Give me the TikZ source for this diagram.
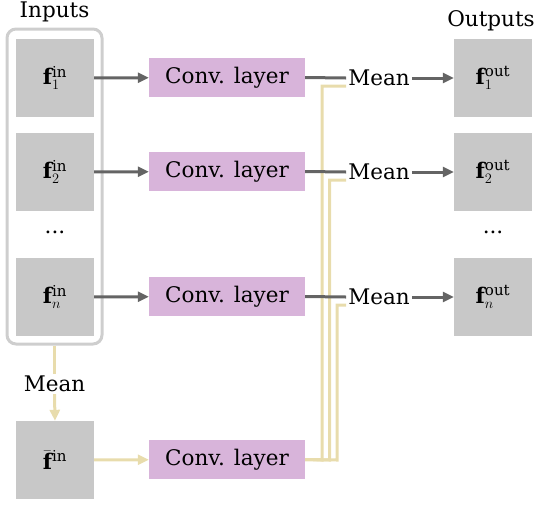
\documentclass[tikz,border=0pt]{standalone}
\usepackage{amsmath}
\usepackage{fontspec}
\setmainfont{DejaVu Serif}
\usepackage{xcolor}
\usetikzlibrary{arrows.meta,positioning,calc}

\definecolor{featgray}{RGB}{200,200,200}
\definecolor{framegray}{RGB}{206,206,206}
\definecolor{convpink}{RGB}{216,180,218}
\definecolor{linegray}{RGB}{100,100,100}
\definecolor{meanyellow}{RGB}{232,220,172}

\begin{document}
\begin{tikzpicture}[
    x=1pt, y=-1pt,
    font=\fontsize{21.5}{26}\selectfont,
    feat/.style={rectangle, fill=featgray, minimum width=78pt, minimum height=78pt, inner sep=0pt},
    conv/.style={rectangle, fill=convpink, minimum width=156pt, minimum height=39pt, inner sep=0pt},
    meanlbl/.style={inner sep=2pt},
    garrow/.style={-{Triangle[length=11pt,width=10pt]}, line width=3pt, draw=linegray},
    gline/.style={line width=3pt, draw=linegray},
    yarrow/.style={-{Triangle[length=11pt,width=10pt]}, line width=3pt, draw=meanyellow},
    yline/.style={line width=3pt, draw=meanyellow}
]
\useasboundingbox (0,0) rectangle (548,507);

% Inputs
\node[draw=framegray, line width=3pt, rounded corners=9pt, minimum width=95pt, minimum height=315pt] (frame) at (54.5,186.5) {};
\node (inlabel) at (54.5,12) {Inputs};
\node[feat] (in1) at (55,78) {$\mathbf{f}^{\mathrm{in}}_1$};
\node[feat] (in2) at (55,172) {$\mathbf{f}^{\mathrm{in}}_2$};
\node (indots) at (55,232) {...};
\node[feat] (inn) at (55,297) {$\mathbf{f}^{\mathrm{in}}_n$};

% Mean of inputs
\node[meanlbl] (inmean) at (54.5,384) {Mean};
\node[feat] (inbar) at (55,460) {$\bar{\mathbf{f}}^{\mathrm{in}}$};

% Conv layers
\node[conv] (conv1) at (227,77.5) {Conv. layer};
\node[conv] (conv2) at (227,171.5) {Conv. layer};
\node[conv] (conv3) at (227,296.5) {Conv. layer};
\node[conv] (conv4) at (227,459.5) {Conv. layer};

% Means
\node[meanlbl] (mean1) at (379,78) {Mean};
\node[meanlbl] (mean2) at (379,172) {Mean};
\node[meanlbl] (mean3) at (379,297) {Mean};

% Outputs
\node (outlabel) at (491,21) {Outputs};
\node[feat] (out1) at (493,78) {$\mathbf{f}^{\mathrm{out}}_1$};
\node[feat] (out2) at (493,172) {$\mathbf{f}^{\mathrm{out}}_2$};
\node (outdots) at (493,232) {...};
\node[feat] (outn) at (493,297) {$\mathbf{f}^{\mathrm{out}}_n$};

% Mean branch
\draw[yline] (frame.south) -- (inmean.north);
\draw[yarrow] (inmean.south) -- (inbar.north);
\draw[yarrow] (inbar) -- (conv4);
\draw[yline] (conv4.east) -- (322,460) -- (322,86) -- ([yshift=-8pt]mean1.west);
\draw[yline] (conv4.east) -- (329.5,460) -- (329.5,180) -- ([yshift=-8pt]mean2.west);
\draw[yline] (conv4.east) -- (337,460) -- (337,305) -- ([yshift=-8pt]mean3.west);

% Arrows
\draw[garrow] (in1) -- (conv1);
\draw[garrow] (in2) -- (conv2);
\draw[garrow] (inn) -- (conv3);
\draw[gline] (conv1.east) -- (mean1.west);
\draw[gline] (conv2.east) -- (mean2.west);
\draw[gline] (conv3.east) -- (mean3.west);
\draw[garrow] (mean1) -- (out1);
\draw[garrow] (mean2) -- (out2);
\draw[garrow] (mean3) -- (outn);

\end{tikzpicture}
\end{document}
